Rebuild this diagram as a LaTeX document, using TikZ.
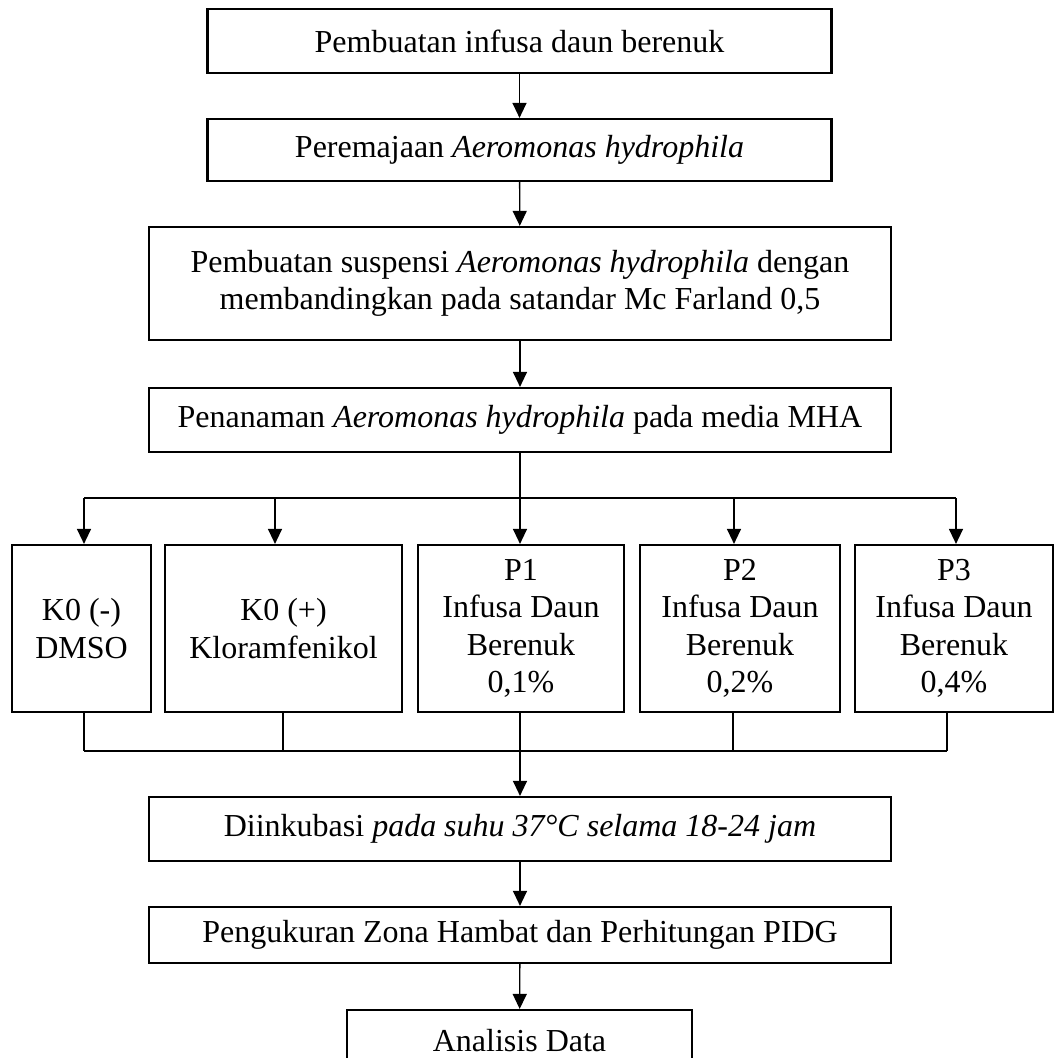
\documentclass[tikz,border=0pt]{standalone}
\usepackage{fontspec}
\setmainfont{Liberation Serif}
\usetikzlibrary{arrows.meta}
\begin{document}
\begin{tikzpicture}[x=1pt,y=-1pt,
  box/.style={draw, line width=2.2pt, inner sep=0pt, align=center,
    font=\fontsize{32}{37.5}\selectfont},
  conn/.style={line width=1.3pt},
  arr/.style={line width=1.3pt, -{Triangle[length=15pt,width=14pt]}},
  bus/.style={line width=2.4pt}]
\useasboundingbox (0,0) rectangle (1056,1058);
% main column
\node[box, minimum width=624pt, minimum height=64pt] (b1) at (519.5,41) {Pembuatan infusa daun berenuk};
\node[box, minimum width=624pt, minimum height=62pt] (b2) at (519.5,150) {Peremajaan \textit{Aeromonas hydrophila}};
\node[box, minimum width=742pt, minimum height=113pt] (b3) at (520,283.5) {Pembuatan suspensi \textit{Aeromonas hydrophila} dengan\\membandingkan pada satandar Mc Farland 0,5};
\node[box, minimum width=742pt, minimum height=64pt] (b4) at (520,420) {Penanaman \textit{Aeromonas hydrophila} pada media MHA};
% treatment boxes
\node[box, minimum width=139pt, minimum height=167pt] (k1) at (81.5,628.5) {K0 (-)\\DMSO};
\node[box, minimum width=237pt, minimum height=167pt] (k2) at (283.5,628.5) {K0 (+)\\Kloramfenikol};
\node[box, minimum width=206pt, minimum height=167pt] (p1) at (521,628.5) {P1\\Infusa Daun\\Berenuk\\0,1\%};
\node[box, minimum width=200pt, minimum height=167pt] (p2) at (740,628.5) {P2\\Infusa Daun\\Berenuk\\0,2\%};
\node[box, minimum width=198pt, minimum height=167pt] (p3) at (954,628.5) {P3\\Infusa Daun\\Berenuk\\0,4\%};
% lower column
\node[box, minimum width=742pt, minimum height=64pt] (d1) at (520,829) {Diinkubasi \textit{pada suhu 37°C selama 18-24 jam}};
\node[box, minimum width=742pt, minimum height=56pt] (d2) at (520,935) {Pengukuran Zona Hambat dan Perhitungan PIDG};
\node[box, minimum width=345pt, minimum height=62pt] (d3) at (519.5,1041) {Analisis Data};
% connectors
\draw[arr] (b1) -- (b2);
\draw[arr] (b2) -- (b3);
\draw[arr] (b3) -- (b4);
\coordinate (t0) at (520,498);
\coordinate (t1) at (84,498);
\coordinate (t2) at (275,498);
\coordinate (t3) at (520,498);
\coordinate (t4) at (734,498);
\coordinate (t5) at (956,498);
\draw[conn] (b4.south) -- (t0);
\draw[bus] (t1) -- (t5);
\draw[arr] (t1) -- (t1 |- k1.north);
\draw[arr] (t2) -- (t2 |- k2.north);
\draw[arr] (t3) -- (t3 |- p1.north);
\draw[arr] (t4) -- (t4 |- p2.north);
\draw[arr] (t5) -- (t5 |- p3.north);
\coordinate (u1) at (84,751);
\coordinate (u2) at (283,751);
\coordinate (u3) at (520,751);
\coordinate (u4) at (733,751);
\coordinate (u5) at (947,751);
\draw[conn] (u1 |- k1.south) -- (u1);
\draw[conn] (u2 |- k2.south) -- (u2);
\draw[conn] (u3 |- p1.south) -- (u3);
\draw[conn] (u4 |- p2.south) -- (u4);
\draw[conn] (u5 |- p3.south) -- (u5);
\draw[bus] (u1) -- (u5);
\draw[arr] (u3) -- (d1);
\draw[arr] (d1) -- (d2);
\draw[arr] (d2) -- (d3);
\end{tikzpicture}
\end{document}
